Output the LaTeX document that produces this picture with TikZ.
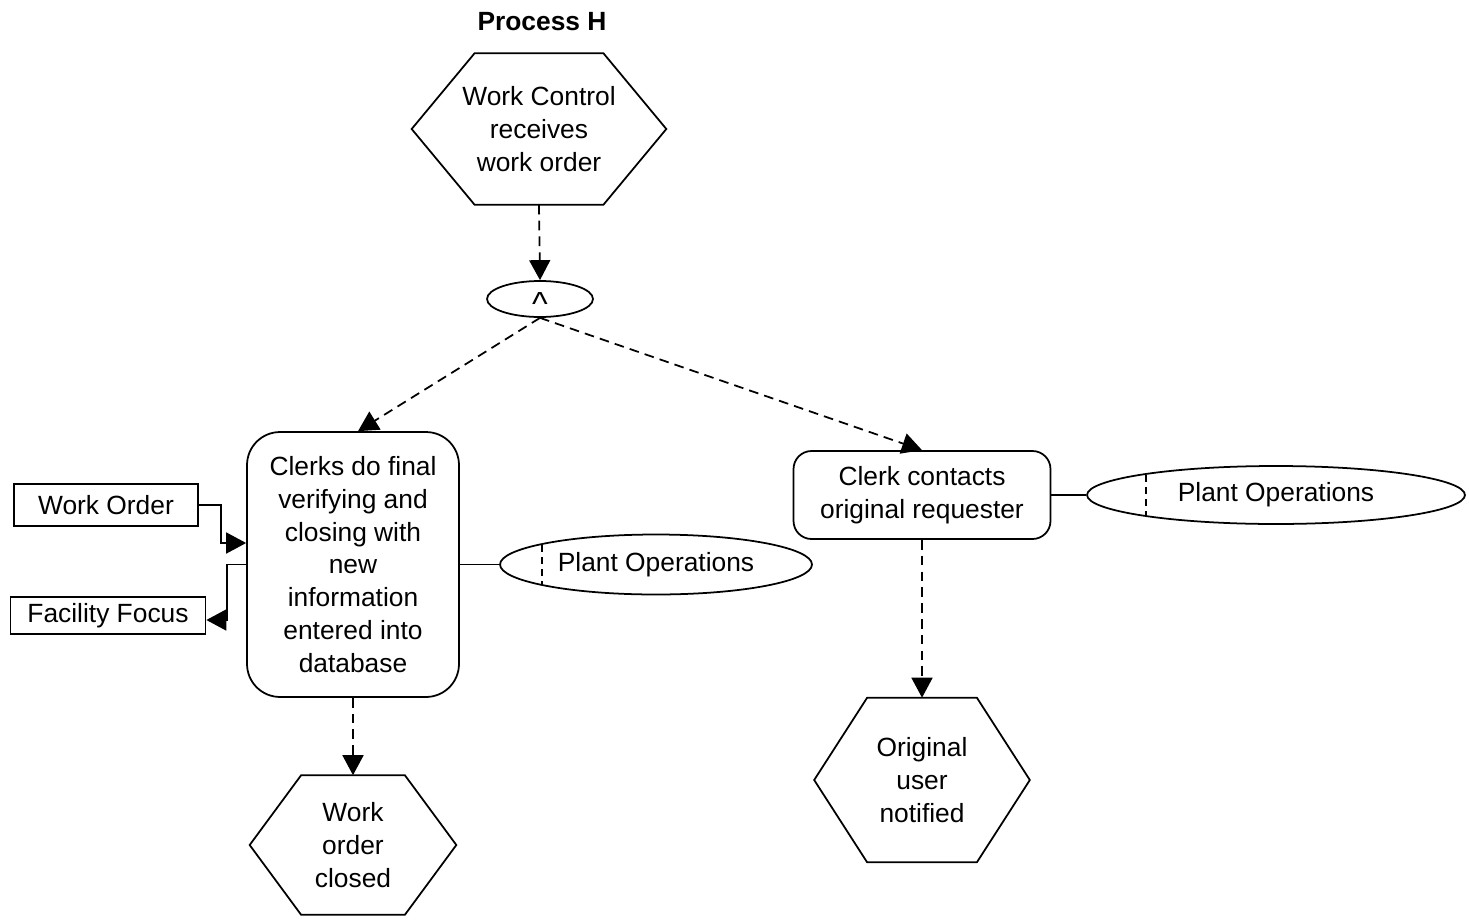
\documentclass[tikz,border=0pt]{standalone}
\usepackage{fontspec}
\setmainfont{Liberation Sans}
\usepackage{tikz}
\usetikzlibrary{arrows.meta,shapes.geometric}

\tikzset{
	flow/.style={line width=1pt, dash pattern=on 5.5pt off 3.5pt, -{Triangle[length=0.4cm,width=0.42cm]}},
	feed/.style={line width=1pt, -{Triangle[length=0.4cm,width=0.42cm]}},
	hexnode/.style={align=center, inner sep=0pt},
	procbox/.style={draw, line width=1pt, rounded corners=#1, align=center, inner sep=0pt},
	docbox/.style={draw, line width=1pt, rectangle, inner sep=0pt},
	rolenode/.style={draw, line width=1pt, ellipse, inner sep=0pt},
}
% frame of a hexagon round a node: name, slant
\newcommand{\hexframe}[2]{\draw[line width=1pt] (#1.west) -- ([xshift=#2]#1.north west) -- ([xshift=-#2]#1.north east) -- (#1.east) -- ([xshift=-#2]#1.south east) -- ([xshift=#2]#1.south west) -- cycle;}

\begin{document}
\begin{tikzpicture}[x=0.02cm, y=-0.02cm, every node/.style={font=\fontsize{15}{18.7}\selectfont}]
	\useasboundingbox (0,0) rectangle (1469,919);
	% Nodes:
	\node (title) at (542,22) {\bfseries Process H};
	\node[hexnode, minimum width=5.08cm, minimum height=3.02cm] (start) at (539,129) {Work Control\\receives\\work order};
	\node[rolenode, minimum width=2.12cm, minimum height=0.72cm] (andgate) at (540,299) {\smash{\raisebox{-0.33cm}{\fontsize{19}{19}\selectfont\textasciicircum}}};
	\node[procbox=0.66cm, minimum width=4.24cm, minimum height=5.3cm] (verify) at (353,564.5) {Clerks do final\\verifying and\\closing with\\new\\information\\entered into\\database};
	\node[docbox, minimum width=3.68cm, minimum height=0.84cm] (workorder) at (106,505) {Work Order};
	\node[docbox, minimum width=3.9cm, minimum height=0.74cm] (facility) at (108,615.5) {Facility Focus};
	\node[rolenode, minimum width=6.24cm, minimum height=1.2cm] (plantA) at (656,564.5) {Plant Operations};
	\node[procbox=0.36cm, minimum width=5.14cm, minimum height=1.76cm] (contact) at (922,495) {Clerk contacts\\original requester};
	\node[rolenode, minimum width=7.56cm, minimum height=1.16cm] (plantB) at (1276,495) {Plant Operations};
	\node[hexnode, minimum width=4.3cm, minimum height=3.28cm] (notified) at (922,780) {Original\\user\\notified};
	\node[hexnode, minimum width=4.12cm, minimum height=2.78cm] (closed) at (353,845) {Work\\order\\closed};
	\hexframe{start}{1.26cm}
	\hexframe{notified}{1.06cm}
	\hexframe{closed}{1.03cm}
	% dividers in the role ellipses
	\draw[line width=0.8pt, dash pattern=on 4pt off 3pt] ([xshift=-2.28cm,yshift=0.4cm]plantA.center) -- ++(0,-0.8cm);
	\draw[line width=0.8pt, dash pattern=on 4pt off 3pt] ([xshift=-2.6cm,yshift=0.41cm]plantB.center) -- ++(0,-0.82cm);
	% Connectors:
	\draw[flow] (start.south) -- (andgate.north);
	\draw[flow] (andgate.south) -- ([xshift=0.1cm]verify.north);
	\draw[flow] (andgate.south) -- (contact.north);
	\draw[flow] (verify.south) -- (closed.north);
	\draw[flow] (contact.south) -- (notified.north);
	\draw[feed] (workorder.east) -- ++(22,0) |- ([yshift=0.43cm]verify.west);
	\draw[feed] (verify.west) -- ++(-19,0) |- ([yshift=-0.09cm]facility.east);
	\draw[line width=1pt] (verify.east) -- (plantA.west);
	\draw[line width=1pt] (contact.east) -- (plantB.west);
\end{tikzpicture}
\end{document}
